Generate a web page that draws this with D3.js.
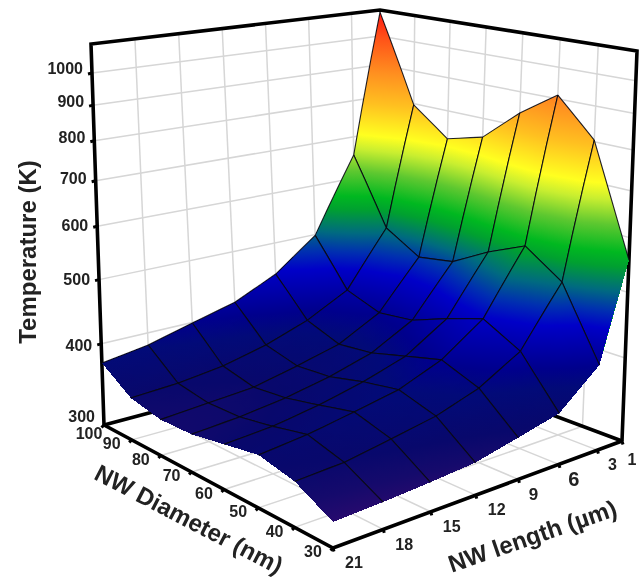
<!DOCTYPE html><html><head><meta charset="utf-8"></head><body style="margin:0;background:#fff"><script src="https://cdn.jsdelivr.net/npm/d3@7"></script>
<svg id="s" width="643" height="584" style="display:block;filter:blur(0.5px)"></svg>
<script>
// ---- data ----
const lengths=[1,3,6,9,12,15,18,21];
const lengthTicks=[1,3,6,9,12,15,18,21];
const diameters=[100,90,80,70,60,50,40,30];
const tempTicks=[300,400,500,600,700,800,900,1000];
// temperature (K) across diameters 100..30 for each NW length
const T_L1=[1091,796,723,748,836,911,804,557];
const T_L3=[654,514,478,488,524,555,509,401];
const T_L6=[498,421,403,409,429,447,418,356];
const T_L9=[445,390,373,378,391,404,385,344];
const T_L12=[415,370,359,362,373,381,367,333];
const T_L15=[399,357,347,351,360,370,357,329];
const T_L18=[383,350,343,344,351,360,348,326];
const T_L21=[374,347,339,340,347,354,345,324];
const temps=[T_L1,T_L3,T_L6,T_L9,T_L12,T_L15,T_L18,T_L21];
const colorT=[322,335,350,380,400,450,475,505,545,570,620,670,705,790,880,1000,1100];
const colorHex=['#2a0a6e','#150a6c','#08086c','#020a78','#00008c','#0000c8','#0030b0','#006a80','#00a030','#00b820','#5ec830','#c8ee30','#ffff20','#ffc020','#ff9020','#ff5018','#ff1010'];
// ---- projection ----
function homog(q){
 const [p0,p1,p2,p3]=q;const dx1=p1[0]-p2[0],dx2=p3[0]-p2[0],sx=p0[0]-p1[0]+p2[0]-p3[0],dy1=p1[1]-p2[1],dy2=p3[1]-p2[1],sy=p0[1]-p1[1]+p2[1]-p3[1];
 const den=dx1*dy2-dx2*dy1,g=(sx*dy2-dx2*sy)/den,h=(dx1*sy-sx*dy1)/den;
 const a=p1[0]-p0[0]+g*p1[0],b=p3[0]-p0[0]+h*p3[0],c=p0[0],d=p1[1]-p0[1]+g*p1[1],e=p3[1]-p0[1]+h*p3[1],f=p0[1];
 return (u,v)=>{const w=g*u+h*v+1;return [(a*u+b*v+c)/w,(d*u+e*v+f)/w];};
}
const floorH=homog([[381,351],[104,425],[333,548],[622,441]]),topH=homog([[380,10],[91,44],[333,88],[637,51]]);
const su=d3.scaleLinear([1,21],[0,1]),sv=d3.scaleLinear([100,30],[0,1]);
const sx=d3.scaleLog([300,1000],[0,Math.log(1000/300)]);
const tOf=T=>{const x=sx(T);return .732*x*(1+.04*x);};
const proj=(u,v,t)=>{const f=floorH(u,v),p=topH(u,v);return [f[0]+(p[0]-f[0])*t,f[1]+(p[1]-f[1])*t];};
const color=d3.scaleLinear().domain(colorT.map(tOf)).range(colorHex).clamp(true);
const svg=d3.select('#s'),defs=svg.append('defs');
const line=d3.line();
// walls + floor grid
const grid=svg.append('g').attr('fill','none').attr('stroke','#d6d6d6').attr('stroke-width',1.5);
const seg=(g,a,b)=>g.append('path').attr('d',line([a,b]));
lengthTicks.slice(1,-1).forEach(L=>{const u=su(L);seg(grid,proj(u,0,0),proj(u,0,1));});
diameters.slice(1,-1).forEach(d=>{const v=sv(d);seg(grid,proj(0,v,0),proj(0,v,1));});
tempTicks.slice(1).forEach(T=>{const t=tOf(T);seg(grid,proj(1,0,t),proj(0,0,t));seg(grid,proj(0,0,t),proj(0,1,t));});
lengthTicks.slice(1,-1).forEach(L=>{const u=su(L);seg(grid,proj(u,0,0),proj(u,1,0));});
diameters.slice(1,-1).forEach(d=>{const v=sv(d);seg(grid,proj(0,v,0),proj(1,v,0));});
// box
const box=svg.append('g').attr('fill','none').attr('stroke','#000').attr('stroke-width',3.6).attr('stroke-linejoin','miter');
box.append('path').attr('d',line([proj(1,0,0),proj(1,0,1),proj(0,0,1),proj(0,1,1),proj(0,1,0)]));
box.append('path').attr('d',line([proj(1,0,0),proj(1,1,0),proj(0,1,0)]));
box.append('path').attr('d',line([proj(1,0,0),proj(0,0,0),proj(0,1,0)]));
// ticks
const ticks=svg.append('g').attr('stroke','#000').attr('stroke-width',3);
const lab=svg.append('g').attr('font-family','"Liberation Sans",Arial,sans-serif').attr('font-weight','bold').attr('font-size',16).attr('fill','#222');
tempTicks.forEach(T=>{const t=tOf(T),p=proj(1,0,t);if(T>300)ticks.append('path').attr('d',line([[p[0]-4,p[1]+1],p]));
 lab.append('text').attr('x',p[0]-9).attr('y',T===300?p[1]-7:p[1]+8*(1-t)-3.5).attr('text-anchor','end').attr('dominant-baseline','middle').text(T);});
diameters.forEach(d=>{const p=proj(1,sv(d),0);ticks.append('path').attr('d',line([[p[0]-2.5,p[1]+2.5],p]));
 lab.append('text').attr('x',p[0]+(d===100?-15:-20)).attr('y',p[1]+(d===100?10:5)).attr('text-anchor','middle').attr('dominant-baseline','middle').text(d);});
lengthTicks.forEach(L=>{const p=proj(su(L),1,0);ticks.append('path').attr('d',line([[p[0]+1,p[1]+3.5],p]));
 lab.append('text').attr('x',p[0]+(L===1?10:L<=9?15:21)).attr('y',p[1]+(L===1?20:16)).attr('text-anchor','middle').attr('dominant-baseline','middle').attr('font-size',L===6?20:L===9?17:16).text(L);});
// surface
let gid=0;
function tri(g,A,B,C){
 const pts=[A,B,C].map(p=>{const q=proj(p[0],p[1],p[2]);return {x:q[0],y:q[1],t:p[2]};});
 const [a,b,c]=pts,det=(b.x-a.x)*(c.y-a.y)-(c.x-a.x)*(b.y-a.y);
 const d='M'+pts.map(p=>p.x+','+p.y).join('L')+'Z';
 const lo=d3.least(pts,p=>p.t),hi=d3.greatest(pts,p=>p.t),dt=hi.t-lo.t;
 let paint=color((lo.t+hi.t)/2);
 if(Math.abs(det)>1e-3&&dt>1e-4){
  const gx=((b.t-a.t)*(c.y-a.y)-(c.t-a.t)*(b.y-a.y))/det,gy=((b.x-a.x)*(c.t-a.t)-(c.x-a.x)*(b.t-a.t))/det,g2=gx*gx+gy*gy;
  const id='g'+(gid++);
  const gr=defs.append('linearGradient').attr('id',id).attr('gradientUnits','userSpaceOnUse')
   .attr('x1',lo.x).attr('y1',lo.y).attr('x2',lo.x+gx*dt/g2).attr('y2',lo.y+gy*dt/g2);
  const knots=[lo.t,...colorT.map(tOf).filter(k=>k>lo.t&&k<hi.t),hi.t];
  knots.forEach(k=>gr.append('stop').attr('offset',(k-lo.t)/dt).attr('stop-color',color(k)));
  paint='url(#'+id+')';
 }
 g.append('path').attr('d',d).attr('fill',paint).attr('shape-rendering','crispEdges');
}
const surf=svg.append('g');
const order=[];
for(let i=0;i<7;i++)for(let j=0;j<7;j++)order.push([i,j]);
order.sort((a,b)=>(a[0]+a[1])-(b[0]+b[1]));
const N=3;
order.forEach(([i,j])=>{
 const g=surf.append('g');
 const U=[su(lengths[i]),su(lengths[i+1])],V=[sv(diameters[j]),sv(diameters[j+1])];
 const q=[[tOf(temps[i][j]),tOf(temps[i][j+1])],[tOf(temps[i+1][j]),tOf(temps[i+1][j+1])]];
 const P=(a,b)=>[U[0]+(U[1]-U[0])*a,V[0]+(V[1]-V[0])*b,(1-a)*(1-b)*q[0][0]+(1-a)*b*q[0][1]+a*(1-b)*q[1][0]+a*b*q[1][1]];
 // underlay closes any pinholes between the gradient triangles
 const corners=[[0,0],[1,0],[1,1],[0,1]].map(c=>{const s=P(c[0],c[1]);return proj(s[0],s[1],s[2]);});
 g.append('path').attr('d',line(corners)+'Z').attr('fill',color((q[0][0]+q[0][1]+q[1][0]+q[1][1])/4)).attr('shape-rendering','crispEdges');
 for(let a=0;a<N;a++)for(let b=0;b<N;b++){
  const p00=P(a/N,b/N),p10=P((a+1)/N,b/N),p01=P(a/N,(b+1)/N),p11=P((a+1)/N,(b+1)/N);
  tri(g,p00,p10,p11);tri(g,p00,p11,p01);
 }
 const ln=g.append('g').attr('fill','none').attr('stroke','#0a0a14').attr('stroke-width',1.1).attr('stroke-opacity',.9);
 const pl=(A,B)=>{const pts=d3.range(N+1).map(k=>{const s=P(A[0]+(B[0]-A[0])*k/N,A[1]+(B[1]-A[1])*k/N);return proj(s[0],s[1],s[2]);});ln.append('path').attr('d',line(pts));};
 pl([0,0],[0,1]);pl([0,0],[1,0]);
 if(j<6)pl([0,1],[1,1]);
 if(i<6)pl([1,0],[1,1]);
});
// axis titles
const title=svg.append('g').attr('font-family','"Liberation Sans",Arial,sans-serif').attr('font-weight','bold').attr('font-size',24).attr('fill','#222').attr('text-anchor','middle').attr('dominant-baseline','middle');
title.append('text').attr('transform','translate(30,252) rotate(-90)').text('Temperature (K)');
title.append('text').attr('transform','translate(188,521) rotate(27.5)').text('NW Diameter (nm)');
title.append('text').attr('transform','translate(533,538) rotate(-19)').text('NW length (µm)');
</script></body></html>
